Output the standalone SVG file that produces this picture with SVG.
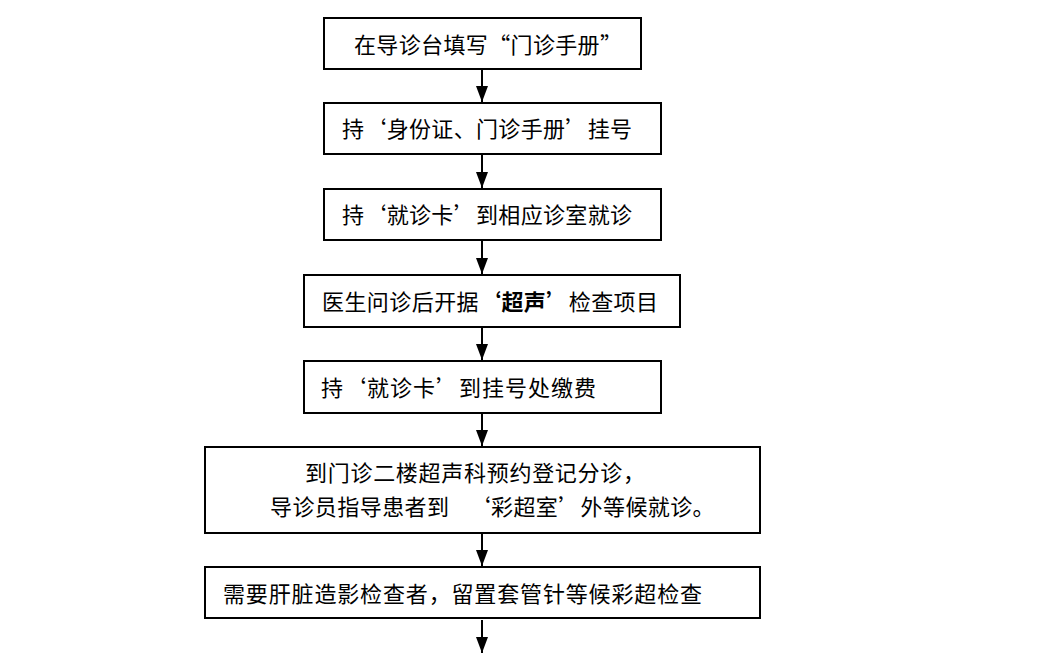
<svg xmlns="http://www.w3.org/2000/svg" width="1050" height="663" viewBox="0 0 1050 663">
<style>
.box{fill:#fff;stroke:#000;stroke-width:2}
.t{font-family:"Noto Sans CJK SC","Noto Sans CJK TC",sans-serif;font-size:22px;fill:#000}
.b{font-weight:bold}
.c{stroke:#000;stroke-width:2;fill:none}
</style>
<defs>
<marker id="ah" viewBox="0 0 16 12" refX="16" refY="6" markerWidth="16" markerHeight="12" markerUnits="userSpaceOnUse" orient="auto">
<path d="M0,0 L16,6 L0,12 z" fill="#000"/>
</marker>
</defs>
<rect width="1050" height="663" fill="#fff"/>
<g id="connectors">
<line class="c" x1="482" y1="70" x2="482" y2="102" marker-end="url(#ah)"/>
<line class="c" x1="482" y1="155" x2="482" y2="188" marker-end="url(#ah)"/>
<line class="c" x1="482" y1="241" x2="482" y2="274" marker-end="url(#ah)"/>
<line class="c" x1="482" y1="328" x2="482" y2="360" marker-end="url(#ah)"/>
<line class="c" x1="482" y1="414" x2="482" y2="446" marker-end="url(#ah)"/>
<line class="c" x1="482" y1="534" x2="482" y2="566" marker-end="url(#ah)"/>
<line class="c" x1="482" y1="620" x2="482" y2="653" marker-end="url(#ah)"/>
</g>
<g id="n1">
<rect class="box" x="324" y="18" width="317" height="51"/>
<text class="t" x="354" y="52.5" textLength="268" lengthAdjust="spacing">在导诊台填写“门诊手册”</text>
</g>
<g id="n2">
<rect class="box" x="324" y="103" width="337" height="51"/>
<text class="t" x="342" y="137" textLength="290" lengthAdjust="spacing">持‘身份证、门诊手册’挂号</text>
</g>
<g id="n3">
<rect class="box" x="324" y="189" width="337" height="51"/>
<text class="t" x="342" y="223" textLength="290" lengthAdjust="spacing">持‘就诊卡’到相应诊室就诊</text>
</g>
<g id="n4">
<rect class="box" x="304" y="275" width="376" height="52"/>
<text class="t" x="322" y="309.5" textLength="336" lengthAdjust="spacing">医生问诊后开据<tspan class="b">‘超声’</tspan>检查项目</text>
</g>
<g id="n5">
<rect class="box" x="304" y="361" width="357" height="52"/>
<text class="t" x="321" y="395.5" textLength="275" lengthAdjust="spacing">持‘就诊卡’到挂号处缴费</text>
</g>
<g id="n6">
<rect class="box" x="205" y="447" width="555" height="86"/>
<text class="t" x="305" y="480.5" textLength="340" lengthAdjust="spacing">到门诊二楼超声科预约登记分诊，</text>
<text class="t" y="514.5"><tspan x="270" textLength="179" lengthAdjust="spacing">导诊员指导患者到</tspan> <tspan x="468.6" textLength="246" lengthAdjust="spacing">‘彩超室’外等候就诊。</tspan></text>
</g>
<g id="n7">
<rect class="box" x="205" y="567" width="555" height="51"/>
<text class="t" x="223" y="602" textLength="479" lengthAdjust="spacing">需要肝脏造影检查者，留置套管针等候彩超检查</text>
</g>
</svg>
